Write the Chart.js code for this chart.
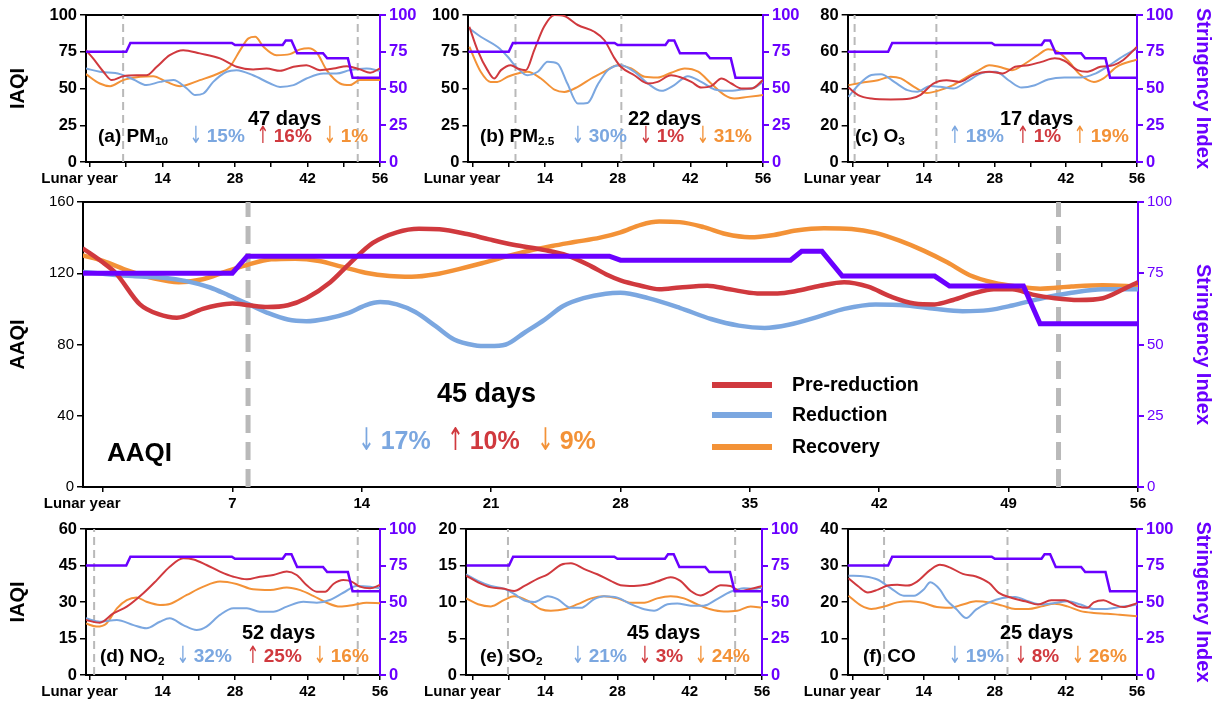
<!DOCTYPE html>
<html>
<head>
<meta charset="utf-8">
<script src="https://cdn.jsdelivr.net/npm/chart.js@4.4.1/dist/chart.umd.min.js"></script>
<style>
  html, body { margin:0; padding:0; background:#fff; }
  body { width:1215px; height:704px; position:relative; overflow:hidden; font-family:"Liberation Sans", Arial, sans-serif; }
  canvas { position:absolute; }
  .t { position:absolute; font-weight:bold; white-space:nowrap; line-height:1; transform:translateY(-50%); color:#000; }
  .t sub { font-size:0.62em; vertical-align:-0.28em; line-height:0; }
  .arr { display:inline-block; font-family:"DejaVu Sans", sans-serif; font-weight:normal; margin-right:0.15em; transform:scale(0.8,1.25); transform-origin:50% 60%; }
  .sw { position:absolute; height:6px; }
</style>
</head>
<body>
<canvas id="cA"></canvas>
<canvas id="cB"></canvas>
<canvas id="cC"></canvas>
<canvas id="cM"></canvas>
<canvas id="cD"></canvas>
<canvas id="cE"></canvas>
<canvas id="cF"></canvas>
<script>
// ---------------- DATA ----------------
const xTickVals = [0, 7, 14, 21, 28, 35, 42, 49, 56];
const xLabelsSmall = ['Lunar year', '', '14', '', '28', '', '42', '', '56'];
const xLabelsMain = ['Lunar year', '7', '14', '21', '28', '35', '42', '49', '56'];
const seriesNames = ['Pre-reduction', 'Reduction', 'Recovery'];

// Stringency Index (right axis, 0-100) [day, value]
const stringency = [[-1.2,75],[7,75],[7.8,81],[27.4,81],[28,79.6],[37.2,79.6],[37.8,82.7],[38.9,82.7],[40,74],[45,74],[45.8,70.5],[49.8,70.5],[50.7,57.3],[56,57.3]];

// Main AAQI
const aaqiPre = [[-1.1,134],[0,126],[0.7,120],[2,102.5],[3,97],[4,95],[5.4,100],[6.2,102],[7,103],[7.9,102],[8.9,101],[10,102],[11,106],[12.3,115],[13.3,125],[14.6,137],[15.9,143],[17.1,145],[18.2,144.7],[19.7,142],[20.9,139],[22.2,136],[23.9,133],[25.1,130],[26.4,124],[27.3,119],[28,116],[29.1,113],[30.1,111],[31.2,112],[32.7,113],[33.9,111],[35.4,108.7],[36.5,108.7],[37.5,110],[38.8,113],[40.1,115],[41.4,112.5],[42.6,107],[43.9,103],[45,102.5],[46,105],[47.1,108.7],[48.2,111],[49.2,111],[50.3,108],[51.5,106],[52.8,105],[54.1,106],[55.2,111],[56,115]];
const aaqiRed = [[-1.1,120.7],[0,119.7],[1.6,118.4],[3.3,117.5],[4.5,115.6],[5.8,112],[6.8,107.6],[7.9,102.5],[8.9,97.8],[10,94],[11,93.1],[12.1,94.5],[13.3,97.8],[14.2,102],[15,103.8],[15.9,102.5],[16.9,98.2],[18,90.3],[19,82.8],[20.1,79.6],[20.9,79.1],[21.8,80],[22.8,86.6],[23.9,94],[24.9,101.6],[26,106],[27.2,108.5],[28,109],[29.5,106],[31.2,100.6],[32.9,94.3],[34.4,90.6],[35.8,89.3],[37.1,91.1],[38.8,95.9],[40.1,100],[41.8,102.5],[43.5,101.9],[45,100],[46.5,98.7],[47.9,99.3],[49.2,101.9],[50.7,105.7],[52.4,109],[54.1,111],[56,111]];
const aaqiRec = [[-1.1,130],[0,126.9],[1.4,121.3],[2.8,117],[4.1,115],[5.4,116.6],[6.6,120.7],[7.9,125],[9.1,127.8],[10.4,128.2],[11.7,126.9],[12.9,123.7],[14.2,120.3],[15.5,118.4],[16.7,118],[18,119.4],[19.2,122.2],[20.5,125.6],[21.8,129.3],[23,132.5],[24.3,135.3],[25.5,137.5],[26.9,140],[28,143],[29.1,147.2],[30.1,149],[31.2,148.7],[32.5,145.9],[33.7,142],[35,140.2],[36.3,141.5],[37.5,144],[39,145.3],[40.5,144.9],[41.8,142.7],[43.1,138.3],[44.4,132.7],[45.7,126],[46.9,118.9],[48.2,114.7],[49.5,112.5],[50.7,111.3],[52.4,112.5],[54.1,113.2],[56,112.5]];

// (a) PM10
const pm10Pre = [[-0.8,76],[0.6,70.5],[2.6,61.4],[4.2,55.7],[6.4,58.4],[9,59],[10.9,59],[12.9,64.8],[15.4,72.7],[18,76.1],[21.2,73.9],[25.1,70.5],[28.3,64.8],[31.5,63],[34.1,63.6],[36.7,62],[39.3,64.8],[41.8,65.9],[44.4,62.5],[47,63.6],[49.6,65.2],[52.1,63],[54.1,60.7],[56,63.6]];
const pm10Red = [[-0.8,63.6],[1.9,61.4],[5.8,59.8],[8.4,56.1],[10.9,52.3],[13.5,54.5],[16.1,55.7],[18.7,50],[20.3,45.5],[21.9,46.6],[23.8,54.5],[26.4,61.4],[28.3,62.5],[31.5,59],[34.8,53.4],[36.7,51.1],[39.3,52.3],[41.8,56.8],[45.1,60.2],[47.6,60.2],[50.2,62.5],[53.4,63.6],[56,62]];
const pm10Rec = [[-0.8,59.8],[1.9,53.4],[3.9,51.6],[6.4,55.7],[9.7,58],[12.2,58.4],[14.8,54.5],[17.4,51.6],[21.2,55.7],[25.1,60.7],[27,64.8],[29,76.1],[30.6,84.1],[31.9,85.2],[33.5,78.4],[36,72.7],[38.6,73.4],[40.6,76.6],[42.2,77.3],[43.8,74.3],[45.7,62.5],[48.3,53.4],[50.2,52.3],[52.1,55.7],[56,55.7]];
const pm10Dash = [6.4, 51.7];

// (b) PM2.5
const pm25Pre = [[-0.6,92],[1,76],[2.9,62.5],[4.2,56.8],[5.5,62.5],[7.4,65.9],[8.7,63.6],[10.3,62.5],[11.9,76],[13.8,92],[15.8,100],[17.7,99.3],[20.3,93.2],[23.5,88.6],[25.4,83],[27.4,70.5],[28.6,64.8],[31.2,59],[33.8,53.4],[35.7,54.5],[38.3,59],[40.2,57.5],[42.2,54.5],[44.1,50.7],[46,51.6],[48,56.8],[49.9,53.4],[51.8,50],[53.8,50],[56,55.7]];
const pm25Red = [[-0.6,90.9],[1.6,85.2],[4.8,78.4],[6.8,71.6],[8.4,64.8],[10.6,59],[12.6,61.4],[14.5,68.2],[16.4,67],[18.3,53.4],[20.3,39.8],[22.2,40.2],[24.1,52.3],[26.1,62.5],[28.6,65.9],[31.2,61.4],[33.8,53.4],[36.4,48.4],[38.9,52.3],[41.5,58.4],[44.1,54.5],[46.7,49.3],[49.2,48.4],[51.8,49.3],[54.4,50.7],[56,54.5]];
const pm25Rec = [[-0.6,78.4],[1.6,61.4],[3.5,54.5],[4.8,54.5],[6.8,58],[8.7,60.2],[10.6,61.4],[13.2,56.8],[15.8,49.3],[17.7,47.7],[20.3,51.1],[22.9,56.8],[25.4,61.4],[28,65.9],[30.6,63.6],[33.2,58],[35.7,57.5],[38.3,60.7],[40.9,63.6],[43.5,61.4],[46,53.4],[48.6,45.5],[50.5,43.2],[53.1,44.3],[56,45.5]];
const pm25Dash = [8.3, 28.7];

// (c) O3
const o3Pre = [[-0.8,40.5],[1.1,36.4],[3.7,34.5],[7.5,34],[11.4,34.5],[13.3,36.4],[15.9,42.7],[18.5,44.5],[21.1,43.6],[23.7,47.3],[26.9,49.1],[29.5,48.2],[32,51.8],[34.6,52.7],[37.2,54.5],[39.8,56.4],[41.7,55.1],[44.3,50],[46.2,49.1],[48.8,51.8],[51.4,52.7],[53.3,55.5],[56,62.7]];
const o3Red = [[-0.8,35.5],[1.1,41.8],[3.7,47.3],[5.6,47.8],[8.2,43.6],[10.8,39.1],[12.7,38.2],[15.3,41.3],[17.2,40.9],[19.8,40],[22.4,43.6],[25.6,48.5],[28.2,49.1],[30.7,44.5],[33.3,40.5],[35.9,41.8],[38.5,44.9],[41.7,46],[44.9,46],[47.5,47.8],[50.1,51.8],[52.6,56.4],[56,61.8]];
const o3Rec = [[-0.8,41.8],[1.7,43.1],[5,44.5],[7.5,46.4],[9.5,45.5],[12.1,40.9],[14.6,37.6],[17.2,39.1],[19.8,41.8],[22.4,46],[24.9,50],[26.9,52.7],[28.8,51.8],[31.4,50],[34,53.6],[36.5,58.2],[38.5,61.3],[40.4,60],[42.3,55.5],[44.9,47.3],[47.5,43.6],[49.4,45.5],[52,51.8],[56,55.8]];
const o3Dash = [0.4, 16.5];

// (d) NO2
const no2Pre = [[-0.8,22.6],[1.9,21.5],[4.5,25.3],[7.1,28.1],[10.3,33.6],[12.9,39],[15.4,44.5],[18,48],[20,47.5],[22.5,45.2],[25.1,42.5],[27.7,40.4],[30.3,39.3],[32.8,40.4],[35.4,41.1],[38,42.5],[39.9,41.1],[41.8,37],[43.8,34.2],[45.4,34.2],[47,37.4],[48.9,39],[50.5,38.4],[52.1,36.3],[54.1,35.6],[56,37]];
const no2Red = [[-0.8,23.3],[1.9,21.9],[5.2,22.6],[8.4,20.5],[10.9,19.2],[13.5,21.9],[15.4,23.3],[18,20.5],[20.6,18.5],[22.5,19.9],[25.1,24.7],[27.7,27.4],[30.3,27.4],[32.8,26],[35.4,26],[38,28.1],[41.2,30.1],[43.8,29.7],[46.3,30.8],[48.9,33.8],[51.5,36.6],[54.1,36.3],[56,35.6]];
const no2Rec = [[-0.8,21.2],[1.3,19.9],[3.2,21.2],[5.2,27.4],[7.1,30.8],[9,31.9],[10.9,30.1],[13.5,28.8],[15.4,29.2],[18.7,32.9],[21.9,36.3],[25.1,38.4],[28.3,37.4],[31.5,35.2],[34.8,34.9],[38,36],[40.6,34.9],[43.1,32.5],[45.7,29.7],[48.3,28.1],[50.9,28.8],[53.4,29.7],[56,29.5]];
const no2Dash = [0.8, 51.7];

// (e) SO2
const so2Pre = [[-1.3,13.6],[1,12.7],[3.5,12],[6.1,11.8],[8,11.5],[10,12.2],[12.6,13.2],[14.5,13.8],[17.1,15.1],[19,15.3],[21.6,14.5],[24.1,13.8],[26.7,12.9],[28.6,12.3],[31.2,12.2],[33.8,12.4],[35.7,12.8],[38.3,13.4],[40.2,12.9],[42.2,11.5],[44.1,10.9],[46,11.5],[48,12.3],[49.9,12.2],[51.8,11.5],[53.8,11.8],[56,12.2]];
const so2Red = [[-1.3,13.8],[1,12.9],[3.5,12.2],[6.1,11.8],[8,11.1],[10,10.2],[11.9,10],[14.5,10.8],[16.4,10.4],[19,9.2],[20.9,9.2],[23.5,10.4],[25.4,10.8],[28,10.6],[30.6,9.7],[33.2,9],[35.1,8.8],[37.7,9.7],[39.6,9.8],[42.2,9.5],[44.7,9.5],[47.3,10.4],[49.9,11.4],[52.5,11.9],[54.4,11.8],[56,12]];
const so2Rec = [[-1.3,10.5],[1,9.7],[3.5,9.4],[6.1,10.3],[8,10.8],[10.6,10.2],[13.2,9],[15.1,8.8],[17.7,9],[20.3,9.7],[22.9,10.5],[25.4,10.8],[28,10.5],[30.6,9.9],[33.2,9.9],[35.7,10.5],[38.3,10.8],[40.9,10.5],[43.4,9.7],[46,9],[48.6,8.7],[51.2,8.8],[53.8,9.4],[56,9.2]];
const so2Dash = [6.8, 50.8];

// (f) CO
const coPre = [[-0.8,26.5],[1.1,24.3],[3,22.6],[5,23.4],[6.9,24.5],[8.8,24.7],[10.8,24.5],[12.7,25.6],[15.3,28.8],[17.2,30.2],[19.1,29.5],[21.7,27.7],[24.3,27],[26.9,25.2],[28.8,22.5],[31.4,21.1],[34,20.2],[36.5,19.3],[39.1,20.5],[41.7,20.5],[44.3,18.8],[46.2,18.4],[47.5,19.9],[49.4,20.5],[51.4,19.3],[53.3,18.6],[56,19.7]];
const coRed = [[-0.8,27.2],[2.4,27],[5,26.1],[7.5,23.8],[10.1,21.7],[12.1,21.7],[14,23.4],[15.3,25.4],[17.2,23.4],[18.5,20.6],[20.4,18.1],[22.4,15.6],[24.3,17.9],[26.9,19.9],[29.5,21.1],[32,21.4],[34.6,20.2],[37.2,19.3],[39.8,19.7],[42.3,20.2],[44.9,19.3],[47.5,18.1],[50.1,18.1],[52.6,18.6],[56,19.3]];
const coRec = [[-0.8,21.7],[1.7,19],[3.7,18.1],[6.3,18.8],[8.8,19.9],[11.4,20.2],[14,19.7],[16.6,18.6],[19.1,18.4],[21.7,19.3],[24.3,20.2],[26.9,19.9],[29.5,19],[32,18.1],[34.6,18.1],[37.2,18.8],[39.8,19.5],[42.3,18.8],[44.9,17.5],[47.5,17],[50.1,16.8],[52.6,16.5],[56,16.1]];
const coDash = [6.2, 30.5];

const mainDash = [7.85, 51.7];

// annotation texts
const panelLabels = { a:['(a) PM','10'], b:['(b) PM','2.5'], c:['(c) O','3'], d:['(d) NO','2'], e:['(e) SO','2'], f:['(f) CO',''] };
const periodDays = { a:'47 days', b:'22 days', c:'17 days', d:'52 days', e:'45 days', f:'25 days', m:'45 days' };
const changes = {
  a:[['↓','15%'],['↑','16%'],['↓','1%']],
  b:[['↓','30%'],['↓','1%'],['↓','31%']],
  c:[['↑','18%'],['↑','1%'],['↑','19%']],
  d:[['↓','32%'],['↑','25%'],['↓','16%']],
  e:[['↓','21%'],['↓','3%'],['↓','24%']],
  f:[['↓','19%'],['↓','8%'],['↓','26%']],
  m:[['↓','17%'],['↑','10%'],['↓','9%']]
};

// ---------------- STYLE / LAYOUT ----------------
const RED = '#d0393e', BLUE = '#7ba7e0', ORANGE = '#f39237', PURPLE = '#6a00ff', DASHGRAY = '#b9b9b9';
const changeColors = [BLUE, RED, ORANGE];
Chart.defaults.font.family = '"Liberation Sans", Arial, sans-serif';

const layout = [
  {id:'cA', key:'a', box:{l:0,t:0,w:420,h:185},   plot:{l:86,r:380,t:15,b:162},  xMin:-0.77, yMax:100, yStep:25, yTitle:'IAQI', sTitle:false, series:[pm10Pre,pm10Red,pm10Rec], dash:pm10Dash},
  {id:'cB', key:'b', box:{l:420,t:0,w:380,h:185}, plot:{l:468,r:763,t:15,b:162}, xMin:-0.77, yMax:100, yStep:25, yTitle:null, sTitle:false, series:[pm25Pre,pm25Red,pm25Rec], dash:pm25Dash},
  {id:'cC', key:'c', box:{l:800,t:0,w:415,h:185}, plot:{l:843,r:1137,t:15,b:162}, xMin:-0.97, yMax:80, yStep:20, yTitle:null, sTitle:true, series:[o3Pre,o3Red,o3Rec], dash:o3Dash},
  {id:'cM', key:'m', box:{l:0,t:185,w:1215,h:335}, plot:{l:83,r:1138,t:202,b:487}, xMin:-1.08, yMax:160, yStep:40, yTitle:'AAQI', sTitle:true, series:[aaqiPre,aaqiRed,aaqiRec], dash:mainDash, main:true},
  {id:'cD', key:'d', box:{l:0,t:515,w:420,h:189}, plot:{l:86,r:380,t:529,b:675}, xMin:-0.77, yMax:60, yStep:15, yTitle:'IAQI', sTitle:false, series:[no2Pre,no2Red,no2Rec], dash:no2Dash},
  {id:'cE', key:'e', box:{l:420,t:515,w:380,h:189}, plot:{l:465,r:762,t:529,b:675}, xMin:-1.35, yMax:20, yStep:5, yTitle:null, sTitle:false, series:[so2Pre,so2Red,so2Rec], dash:so2Dash},
  {id:'cF', key:'f', box:{l:800,t:515,w:415,h:189}, plot:{l:843,r:1137,t:529,b:675}, xMin:-0.97, yMax:40, yStep:10, yTitle:null, sTitle:true, series:[coPre,coRed,coRec], dash:coDash}
];

function pts(arr){ return arr.map(p => ({x:p[0], y:p[1]})); }

layout.forEach(P => {
  const cv = document.getElementById(P.id);
  cv.width = P.box.w; cv.height = P.box.h;
  cv.style.left = P.box.l + 'px'; cv.style.top = P.box.t + 'px';
  const main = !!P.main;
  const lw = main ? 4.5 : 2;
  const colors = [RED, BLUE, ORANGE];
  const datasets = [];
  P.dash.forEach(d => datasets.push({
    data: pts([[d,0],[d,P.yMax]]), borderColor: DASHGRAY, borderWidth: main ? 5 : 2,
    borderDash: main ? [18,9] : [8,5], pointRadius:0, yAxisID:'y', order:5
  }));
  P.series.forEach((s,i) => datasets.push({
    label: seriesNames[i], data: pts(s), borderColor: colors[i], borderWidth: lw,
    pointRadius:0, cubicInterpolationMode:'monotone', yAxisID:'y', order: i+1
  }));
  datasets.push({ label:'Stringency Index', data: pts(stringency), borderColor: PURPLE, borderWidth: main ? 5 : 2.5,
    pointRadius:0, tension:0, yAxisID:'y1', order:0 });

  const leftW = P.plot.l - P.box.l;
  const rightW = P.box.l + P.box.w - P.plot.r;
  const padTop = P.plot.t - P.box.t;
  const xH = P.box.t + P.box.h - P.plot.b;
  const tickFont = main ? {size:15, weight:'normal'} : {size:16.5, weight:'bold'};
  const xLabels = main ? xLabelsMain : xLabelsSmall;
  const lunarPad = main ? ' '.repeat(10) : ' '.repeat(5);

  new Chart(cv, {
    type:'line',
    data:{ datasets },
    options:{
      responsive:false, animation:false, devicePixelRatio:1,
      layout:{ padding:{ top:padTop, left:0, right:0, bottom:0 } },
      plugins:{ legend:{display:false}, tooltip:{enabled:false} },
      scales:{
        x:{ type:'linear', position:'bottom', min:P.xMin, max:56,
            afterBuildTicks: s => { s.ticks = xTickVals.map(v => ({value:v})); },
            ticks:{ autoSkip:false, maxRotation:0, color:'#000', font:{size:15, weight:'bold'}, padding:3,
                    callback:(v,i) => (i === 0 ? xLabels[0] + lunarPad : xLabels[i]) },
            grid:{ drawOnChartArea:false, drawTicks:true, tickLength:5, color:'#000', lineWidth:1.5 },
            border:{ display:true, color:'#000', width:2 },
            afterFit: s => { s.height = xH; } },
        xTop:{ type:'linear', position:'top', min:P.xMin, max:56,
            ticks:{ display:false }, grid:{ display:false, drawTicks:false },
            border:{ display:true, color:'#000', width:2 },
            afterFit: s => { s.height = 0; } },
        y:{ position:'left', min:0, max:P.yMax,
            ticks:{ stepSize:P.yStep, color:'#000', font:tickFont, padding:3 },
            grid:{ drawOnChartArea:false, drawTicks:true, tickLength:6, color:'#000', lineWidth:1.5 },
            border:{ display:true, color:'#000', width:2 },
            title:{ display:!!P.yTitle, text:P.yTitle || '', color:'#000', font:{size:20, weight:'bold'}, padding:{top:6, bottom:0} },
            afterFit: s => { s.width = leftW; } },
        y1:{ position:'right', min:0, max:100,
            ticks:{ stepSize:25, color:PURPLE, font:tickFont, padding:3 },
            grid:{ drawOnChartArea:false, drawTicks:true, tickLength:6, color:PURPLE, lineWidth:2 },
            border:{ display:true, color:PURPLE, width:2 },
            title:{ display:P.sTitle, text:'Stringency Index', color:PURPLE, font:{size:20, weight:'bold'}, padding:{top:0, bottom:0} },
            afterFit: s => { s.width = rightW; } }
      }
    }
  });
});

// ---------------- HTML TEXT ANNOTATIONS ----------------
const annotPos = {
  a:{label:[98,135], days:[248,118], ch:[[188,135],[255,135],[322,135]]},
  b:{label:[480,135], days:[628,118], ch:[[570,135],[638,135],[695,135]]},
  c:{label:[855,135], days:[1000,118], ch:[[947,135],[1015,135],[1072,135]]},
  d:{label:[100,655], days:[242,632], ch:[[175,655],[245,655],[312,655]]},
  e:{label:[480,655], days:[627,632], ch:[[570,655],[637,655],[693,655]]},
  f:{label:[863,655], days:[1000,632], ch:[[947,655],[1013,655],[1070,655]]},
  m:{days:[437,393], ch:[[356,440],[445,440],[535,440]]}
};
function addText(html, x, y, size, color){
  const el = document.createElement('div');
  el.className = 't';
  el.innerHTML = html;
  el.style.left = x + 'px'; el.style.top = y + 'px';
  el.style.fontSize = size + 'px';
  if (color) el.style.color = color;
  document.body.appendChild(el);
  return el;
}
Object.keys(annotPos).forEach(k => {
  const pos = annotPos[k];
  const main = k === 'm';
  if (panelLabels[k]) {
    const [txt, sub] = panelLabels[k];
    addText(txt + (sub ? '<sub>' + sub + '</sub>' : ''), pos.label[0], pos.label[1], 19);
  }
  addText(periodDays[k], pos.days[0], pos.days[1], main ? 27 : 20);
  changes[k].forEach((c, i) => {
    addText('<span class="arr">' + c[0] + '</span>' + c[1], pos.ch[i][0], pos.ch[i][1], main ? 25 : 19, changeColors[i]);
  });
});
addText('AAQI', 107, 452, 26);

// Legend (HTML)
const legendColors = [RED, BLUE, ORANGE];
const legendY = [385, 415, 447];
seriesNames.forEach((n, i) => {
  const sw = document.createElement('div');
  sw.className = 'sw';
  sw.style.left = '712px'; sw.style.width = '60px';
  sw.style.top = (legendY[i] - 3) + 'px';
  sw.style.background = legendColors[i];
  document.body.appendChild(sw);
  addText(n, 792, legendY[i], 19.5);
});
</script>
</body>
</html>
